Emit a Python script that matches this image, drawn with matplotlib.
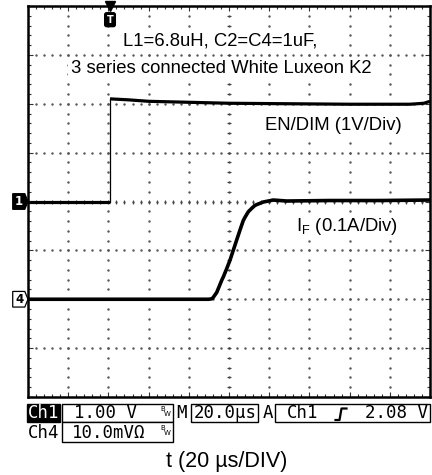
import numpy as np
import matplotlib
matplotlib.use("Agg")
from matplotlib import pyplot as plt
from matplotlib.patches import Polygon, Rectangle
from matplotlib.lines import Line2D
from matplotlib.ticker import MultipleLocator
from matplotlib.transforms import blended_transform_factory

plt.rcParams['font.family'] = ['Liberation Sans', 'DejaVu Sans']
plt.rcParams['mathtext.fontset'] = 'custom'
plt.rcParams['mathtext.rm'] = 'Liberation Sans'
plt.rcParams['mathtext.it'] = 'Liberation Sans'

# ustawienia oscyloskopu
time_per_div = 20.0     # us
ch1_per_div = 1.0       # V
ch4_per_div = 0.1       # A
ch1_offset = 4.0        # dzialki od dolu
ch4_offset = 2.0
trig_time = 40.8        # us

# EN/DIM (V)
en_low_t = [0.0, 40.8]
en_low_v = [0.0, 0.0]
en_high_t = [40.8, 50, 60, 80, 100, 130, 160, 190, 197, 200]
en_high_v = [2.10, 2.08, 2.05, 2.03, 2.01, 2.0, 1.99, 1.99, 2.01, 2.05]

# prad diody I_F (A)
if_t = [0, 20, 40, 60, 80, 90.0, 91.5, 92.2, 93.9, 94.7, 96.4, 97.2, 98.9, 100.5,
        103.0, 103.8, 105.5, 107.1, 108.0, 109.6, 111.3, 112.9, 114.6, 117.1,
        119.6, 122.0, 128.7, 150, 175, 200]
if_a = [0, 0, 0, 0, 0, 0, 0.001, 0.004, 0.014, 0.022, 0.039, 0.046, 0.063, 0.080,
        0.111, 0.121, 0.142, 0.161, 0.168, 0.179, 0.186, 0.192, 0.195, 0.199,
        0.201, 0.203, 0.201, 0.202, 0.202, 0.203]

fig = plt.figure(figsize=(4.32, 4.75), dpi=100)
ax = fig.add_axes([28 / 432, 78 / 475, 402 / 432, 391 / 475])
ax.set_xlim(0, 10 * time_per_div)
ax.set_ylim(0, 8)

# siatka z kropek
gx, gy = np.meshgrid(np.arange(4, 200, 4), np.arange(1, 8))
ax.plot(gx.ravel(), gy.ravel(), ls='none', marker='s', ms=0.7, color='#555555')
gx, gy = np.meshgrid(np.arange(20, 200, 20), np.arange(0.2, 8, 0.2))
ax.plot(gx.ravel(), gy.ravel(), ls='none', marker='s', ms=0.7, color='#555555')
# krzyz srodkowy
ax.plot(np.arange(4, 200, 4), np.full(49, 4.0), ls='none', marker='|', ms=3.2,
        mew=0.8, color='#444444')
ax.plot(np.full(39, 100.0), np.arange(0.2, 8, 0.2), ls='none', marker='_', ms=3.2,
        mew=0.8, color='#444444')

ax.xaxis.set_major_locator(MultipleLocator(time_per_div))
ax.xaxis.set_minor_locator(MultipleLocator(time_per_div / 5))
ax.yaxis.set_major_locator(MultipleLocator(1))
ax.yaxis.set_minor_locator(MultipleLocator(0.2))
ax.tick_params(which='both', direction='in', top=True, right=True,
               labelbottom=False, labelleft=False, width=0.8, color='#333333')
ax.tick_params(which='major', length=3.5)
ax.tick_params(which='minor', length=2.5)
for s in ax.spines.values():
    s.set_linewidth(1.8)

# przebiegi
en_low = ch1_offset + np.array(en_low_v) / ch1_per_div
en_high = ch1_offset + np.array(en_high_v) / ch1_per_div
ax.plot(en_low_t, en_low, color='black', lw=2.3, solid_capstyle='butt')
ax.plot([en_low_t[-1], en_high_t[0]], [en_low[-1], en_high[0]], color='black', lw=0.9)
ax.plot(en_high_t, en_high, color='black', lw=2.3, solid_capstyle='butt')
ax.plot(if_t, ch4_offset + np.array(if_a) / ch4_per_div, color='black', lw=2.6)

# opisy - biale tlo zaslania kropki siatki
box = dict(boxstyle='square,pad=0.15', fc='white', ec='none')
box2 = dict(boxstyle='square,pad=0.3', fc='white', ec='none')
ax.text(95.5, 7.28, "L1=6.8uH, C2=C4=1uF,", ha='center', va='center', fontsize=13.3, bbox=box)
ax.text(96.0, 6.73, "3 series connected White Luxeon K2", ha='center', va='center',
        fontsize=13.3, bbox=box)
ax.text(117.9, 5.56, "EN/DIM (1V/Div)", ha='left', va='center', fontsize=13.3, bbox=box2)
ax.text(133.3, 3.48, r"$\mathregular{I_F}$ (0.1A/Div)", ha='left', va='center',
        fontsize=13.3, bbox=box)

# znaczniki kanalow i wyzwalania
tr = blended_transform_factory(ax.transAxes, ax.transData)
for off, lab, fc, tc in [(ch1_offset, "1", 'black', 'white'), (ch4_offset, "4", 'white', 'black')]:
    h = 0.16
    ax.add_patch(Polygon([(-0.038, off - h), (-0.008, off - h), (0.0, off),
                          (-0.008, off + h), (-0.038, off + h)], closed=True,
                         fc=fc, ec='black', lw=0.9, transform=tr, clip_on=False))
    ax.text(-0.022, off, lab, transform=tr, ha='center', va='center', color=tc,
            fontsize=8.5, fontweight='bold', family='DejaVu Sans')
trt = blended_transform_factory(ax.transData, ax.transAxes)
ax.plot([trig_time], [1.0], marker='v', ms=7, color='black', transform=trt, clip_on=False)
ax.text(trig_time, 0.965, "T", transform=trt, ha='center', va='center', color='white',
        fontsize=7, fontweight='bold', family='DejaVu Sans',
        bbox=dict(boxstyle='round,pad=0.2', fc='black', ec='black'))

# pasek statusu (wspolrzedne w pikselach)
ov = fig.add_axes([0, 0, 1, 1])
ov.set_xlim(0, 432)
ov.set_ylim(475, 0)
ov.axis('off')
mono = dict(family='DejaVu Sans Mono', fontsize=12.5, va='center')
ov.add_patch(Rectangle((27, 404), 33, 18, fc='black', ec='black'))
ov.text(43.5, 413.5, "Ch1", color='white', ha='center', **mono)
ov.add_patch(Rectangle((62, 404), 111, 18, fc='white', ec='black', lw=1))
ov.text(105, 413.5, "1.00 V", ha='center', **mono)
ov.text(181.5, 413.5, "M", ha='center', **mono)
ov.add_patch(Rectangle((191, 404), 67, 18, fc='white', ec='black', lw=1))
ov.text(225, 413.5, "20.0µs", ha='center', **mono)
ov.text(267.5, 413.5, "A", ha='center', **mono)
ov.add_patch(Rectangle((275, 404), 155, 18, fc='white', ec='black', lw=1))
ov.text(303, 413.5, "Ch1", ha='center', **mono)
ov.add_line(Line2D([335.5, 339.5, 341.5, 346.5], [420, 420, 408.5, 408.5],
                   color='black', lw=1.6))
ov.text(428, 413.5, "2.08 V", ha='right', **mono)
ov.text(43.5, 432.5, "Ch4", ha='center', **mono)
ov.add_patch(Rectangle((62, 422), 111, 20, fc='white', ec='black', lw=1))
ov.text(72, 432.5, "10.0mVΩ", ha='left', **mono)
for yb in [409, 428]:
    ov.text(163, yb, "B", fontsize=5, ha='center', va='center', family='DejaVu Sans')
    ov.text(167.5, yb + 5, "W", fontsize=5, ha='center', va='center', family='DejaVu Sans')

fig.text(226.5 / 432, 1 - 461 / 475, "t (20 µs/DIV)", ha='center', va='center',
         fontsize=15.5)

fig.savefig("out.png", dpi=100)
plt.close()
